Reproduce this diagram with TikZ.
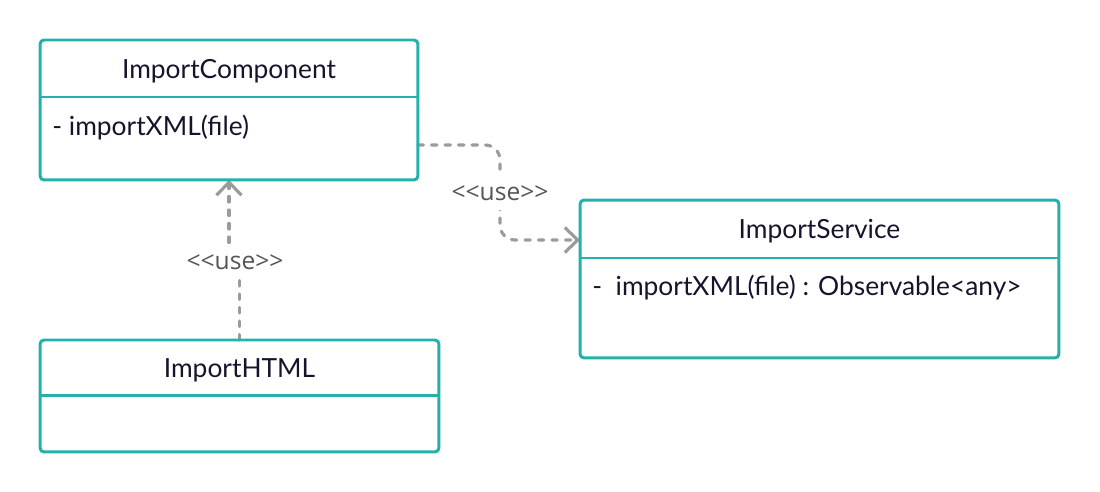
\documentclass[tikz,border=0pt]{standalone}
\usepackage{fontspec}
\setmainfont{Lato}
\newfontfamily\stereofont{Open Sans}
\usepackage{tikz}
\usetikzlibrary{arrows.meta, positioning, backgrounds}
\definecolor{umlteal}{RGB}{38,176,172}
\definecolor{umltext}{RGB}{20,20,44}
\definecolor{depgray}{RGB}{155,155,155}
\definecolor{stereogray}{RGB}{85,85,85}

\begin{document}
\begin{tikzpicture}[
    x=0.02cm, y=-0.02cm,
    classbox/.style={draw=umlteal,line width=1.7pt,rounded corners=2.3pt,
      outer sep=0pt},
    classname/.style={outer sep=0pt,inner sep=0pt,text=umltext,text depth=0pt,
      font=\fontsize{15}{17}\selectfont},
    member/.style={inner sep=0pt,text=umltext,font=\fontsize{15}{17}\selectfont},
    divider/.style={draw=umlteal,line width=1.7pt},
    dep/.style={depgray,line width=1.8pt,line cap=round,
      dash pattern=on 0.11cm off 0.16cm,
      -{Straight Barb[length=0.26cm,width=0.5cm]}},
    stereo/.style={fill=white,inner xsep=2pt,inner ysep=0.19cm,text=stereogray,
      font=\stereofont\fontsize{14}{16}\selectfont}
  ]
  \useasboundingbox (0,0) rectangle (1100,492);

  % ImportComponent
  \node[classbox,minimum width=7.56cm,minimum height=2.8cm] (comp) at (229,110) {};
  \node[classname,minimum width=7.56cm,minimum height=1.14cm,anchor=north]
    (compT) at (comp.north) {ImportComponent};
  \draw[divider] (compT.south west) -- (compT.south east);
  \node[member,anchor=base west] (compOp)
    at ([xshift=0.24cm,yshift=-0.77cm]compT.south west) {- importXML(file)};

  % ImportService
  \node[classbox,minimum width=9.58cm,minimum height=3.16cm] (svc) at (819.5,279) {};
  \node[classname,minimum width=9.58cm,minimum height=1.16cm,anchor=north]
    (svcT) at (svc.north) {ImportService};
  \draw[divider] (svcT.south west) -- (svcT.south east);
  \node[member,anchor=base west] (svcOp)
    at ([xshift=0.24cm,yshift=-0.75cm]svcT.south west)
    {-~~importXML(file) : Observable<any>};

  % ImportHTML
  \node[classbox,minimum width=7.98cm,minimum height=2.24cm] (html) at (239.5,396) {};
  \node[classname,minimum width=7.98cm,minimum height=1.12cm,anchor=north]
    (htmlT) at (html.north) {ImportHTML};
  \draw[divider] (htmlT.south west) -- (htmlT.south east);

  % dependencies
  \node[stereo] (use1) at (500,193) {<<use>>};
  \node[stereo] (use2) at (235,262) {<<use>>};
  \begin{scope}[on background layer]
    \draw[dep,rounded corners=0.3cm]
      ([yshift=-0.7cm]comp.east) -| (use1.center) |- ([yshift=0.78cm]svc.west);
    \draw[dep] (html.north) |- (use2.center) -| (comp.south);
  \end{scope}
\end{tikzpicture}
\end{document}
